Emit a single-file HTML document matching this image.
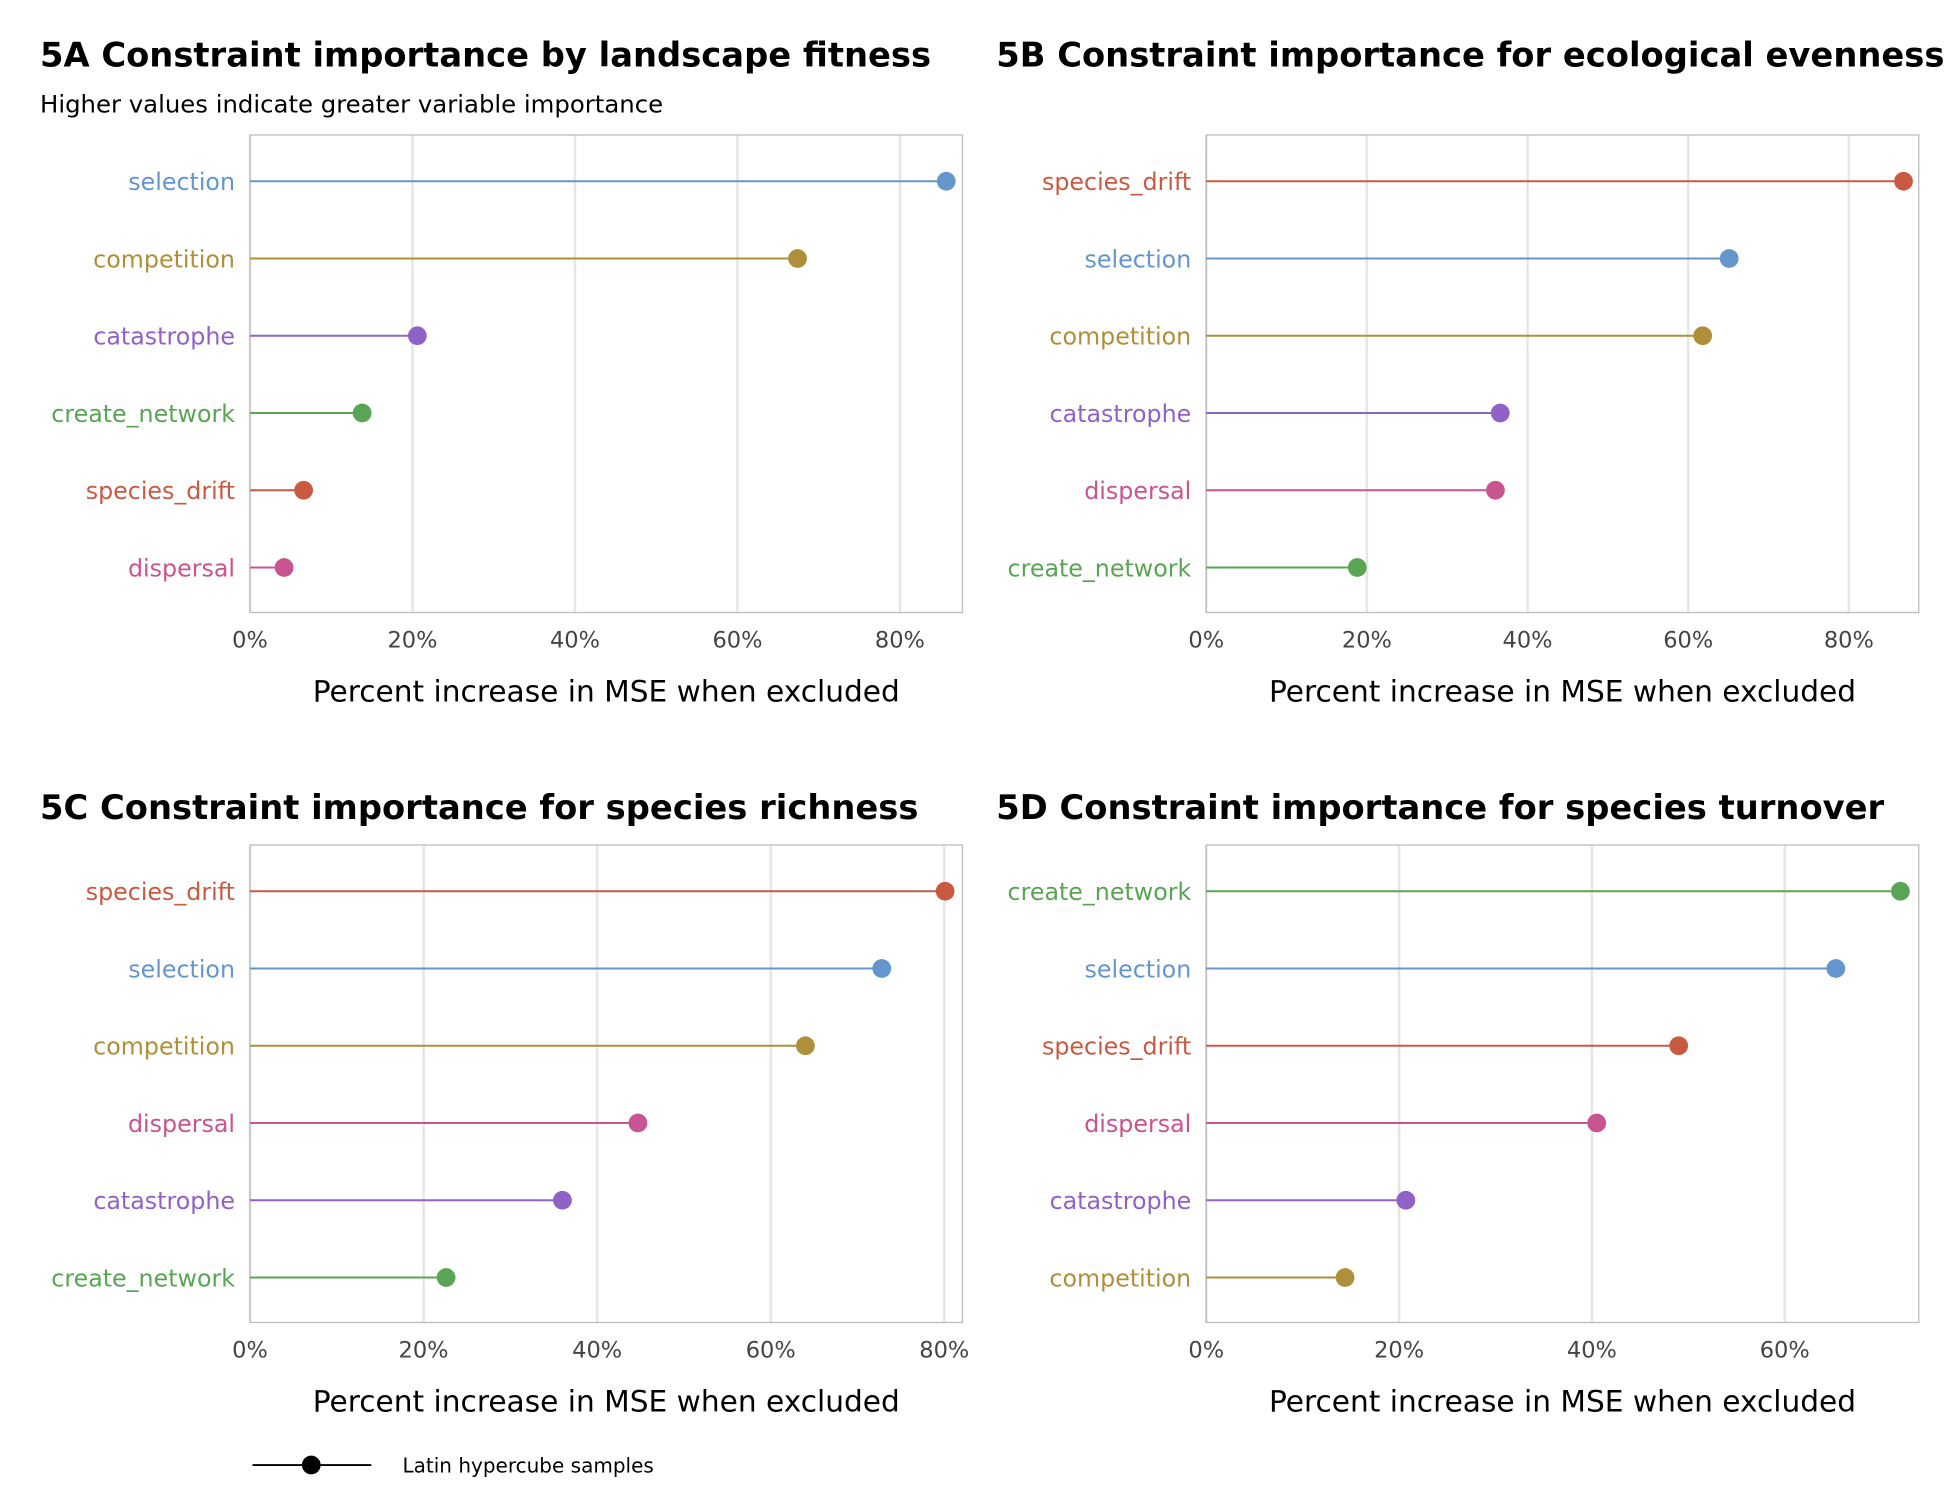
<!DOCTYPE html>
<html><head><meta charset="utf-8">
<style>
html,body{margin:0;padding:0;background:#fff;}
svg{display:block;font-family:"DejaVu Sans","Liberation Sans",sans-serif;}
</style></head>
<body>
<svg id="chart" width="1950" height="1500" viewBox="0 0 1560 1200" xmlns="http://www.w3.org/2000/svg">
<rect width="1560" height="1200" fill="#fff"/>
<text x="32" y="90" font-size="19.5" fill="#000">Higher values indicate greater variable importance</text>
<g>
<line x1="202" y1="1172" x2="297" y2="1172" stroke="#000" stroke-width="1.5"/>
<circle cx="249" cy="1172" r="7.5" fill="#000"/>
<text x="322" y="1178" font-size="16" fill="#000">Latin hypercube samples</text>
</g>
</svg>
<script>
const colors = {selection:"#6495cd", competition:"#b08f3a", catastrophe:"#9062c8", create_network:"#5aa555", species_drift:"#c85a42", dispersal:"#c85490"};

const titleA = "5A Constraint importance by landscape fitness";
const catsA = ["selection","competition","catastrophe","create_network","species_drift","dispersal"];
const valsA = [85.7,67.4,20.6,13.8,6.6,4.2];
const ticksA = [0,20,40,60,80];

const titleB = "5B Constraint importance for ecological evenness";
const catsB = ["species_drift","selection","competition","catastrophe","dispersal","create_network"];
const valsB = [86.8,65.1,61.8,36.6,36.0,18.8];
const ticksB = [0,20,40,60,80];

const titleC = "5C Constraint importance for species richness";
const catsC = ["species_drift","selection","competition","dispersal","catastrophe","create_network"];
const valsC = [80.1,72.8,64.0,44.7,36.0,22.6];
const ticksC = [0,20,40,60,80];

const titleD = "5D Constraint importance for species turnover";
const catsD = ["create_network","selection","species_drift","dispersal","catastrophe","competition"];
const valsD = [72.0,65.3,49.0,40.5,20.7,14.4];
const ticksD = [0,20,40,60];

const NS = "http://www.w3.org/2000/svg";
const svg = document.getElementById("chart");
function mk(tag, attrs, parent){
  const e = document.createElementNS(NS, tag);
  for (const k in attrs) e.setAttribute(k, attrs[k]);
  (parent||svg).appendChild(e);
  return e;
}

function panel(key, title, cats, vals, ticks, x0, y0, maxV, titleY){
  const w = 570, h = 382;
  const g = mk("g", {});
  
  
  const xs = v => x0 + v / maxV * w;
  const ys = i => y0 + 37 + i * 61.8;
  const t = mk("text", {x: x0 - 168, y: titleY, "font-size": 27, "font-weight": "bold", fill: "#000"}, g);
  t.textContent = title;
  
  
  ticks.forEach(tv => {
    const gl = mk("line", {x1: xs(tv), x2: xs(tv), y1: y0, y2: y0 + h, stroke: "#e6e6e6", "stroke-width": 2}, g);
    
    
    const tl = mk("text", {x: xs(tv), y: y0 + h + 28, "font-size": 18, fill: "#444", "text-anchor": "middle"}, g);
    tl.textContent = tv + "%";
    
    
  });
  const border = mk("rect", {x: x0, y: y0, width: w, height: h, fill: "none", stroke: "#bbb", "stroke-width": 1}, g);
  
  
  cats.forEach((c, i) => {
    const y = ys(i), col = colors[c];
    const ln = mk("line", {x1: x0, x2: xs(vals[i]), y1: y, y2: y, stroke: col, "stroke-width": 1.6}, g);
    
    
    const pt = mk("circle", {cx: xs(vals[i]), cy: y, r: 7.5, fill: col}, g);
    
    
    const lb = mk("text", {x: x0 - 12, y: y + 7, "font-size": 19, fill: col, "text-anchor": "end"}, g);
    lb.textContent = c;
    
    
  });
  const at = mk("text", {x: x0 + 285, y: y0 + h + 71, "font-size": 23.7, fill: "#000", "text-anchor": "middle"}, g);
  at.textContent = "Percent increase in MSE when excluded";
  
  
}

panel("a", titleA, catsA, valsA, ticksA, 200, 108, 87.7, 53);
panel("b", titleB, catsB, valsB, ticksB, 965, 108, 88.7, 53);
panel("c", titleC, catsC, valsC, ticksC, 200, 676, 82.1, 655);
panel("d", titleD, catsD, valsD, ticksD, 965, 676, 73.9, 655);
</script>
</body></html>
